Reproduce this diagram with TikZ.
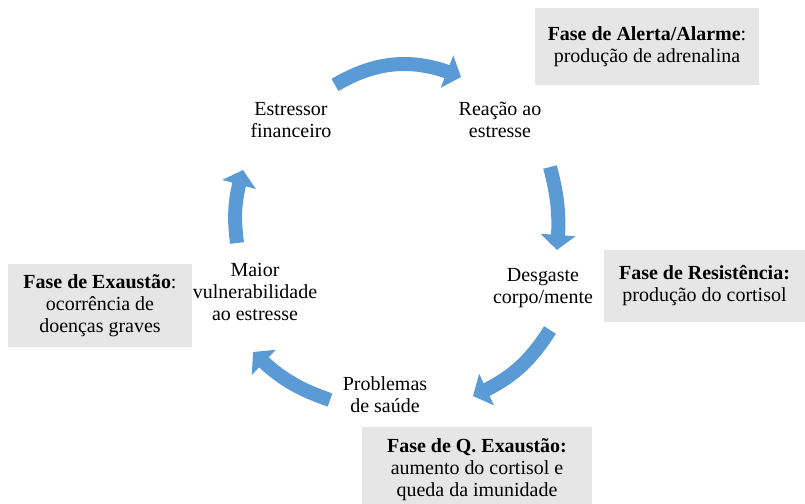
\documentclass[tikz,border=0pt]{standalone}
\usepackage{fontspec}
\setmainfont{Liberation Serif}
\usetikzlibrary{arrows.meta,bending}
\definecolor{cycleblue}{HTML}{5B9BD5}
\definecolor{phasegray}{HTML}{E7E6E6}
\tikzset{
  cyclearrow/.style={draw=cycleblue, line width=0.35cm, -{Triangle[length=0.375cm,width=0.85cm,flex]}},
  steplabel/.style={align=center, font=\fontsize{14.2}{15.6}\selectfont},
  phasebox/.style={fill=phasegray, align=center, inner sep=0pt, font=\fontsize{14.2}{15.6}\selectfont}
}
\begin{document}
\begin{tikzpicture}[x=0.025cm, y=-0.025cm]
\useasboundingbox (0,0) rectangle (805,504);
\node[steplabel] (estressor) at (291,120) {Estressor\\financeiro};
\node[steplabel] (reacao) at (500,120) {Reação ao\\estresse};
\node[steplabel] (desgaste) at (543,288) {Desgaste\\corpo/mente};
\node[steplabel] (problemas) at (385,395) {Problemas\\de saúde};
\node[steplabel] (maior) at (255,292) {Maior\\vulnerabilidade\\ao estresse};
\node[phasebox, minimum width=5.6cm, minimum height=1.925cm] (alerta) at (647,46.5) {\textbf{Fase de Alerta/Alarme}:\\produção de adrenalina};
\node[phasebox, minimum width=5.025cm, minimum height=1.8cm] (resist) at (704.5,286) {\textbf{Fase de Resistência:}\\produção do cortisol};
\node[phasebox, minimum width=4.6cm, minimum height=2.075cm] (exaust) at (100,305.5) {\textbf{Fase de Exaustão}:\\ocorrência de\\doenças graves};
\node[phasebox, minimum width=5.75cm, minimum height=2.125cm] (qexaust) at (477,469.5) {\textbf{Fase de Q. Exaustão:}\\aumento do cortisol e\\queda da imunidade};
\coordinate (t1) at (335,85);
\coordinate (h1) at (461,77);
\coordinate (t2) at (550,167);
\coordinate (h2) at (557,250);
\coordinate (t3) at (550,330);
\coordinate (h3) at (473,396);
\coordinate (t4) at (330,400);
\coordinate (h4) at (253,352);
\coordinate (t5) at (237,243);
\coordinate (h5) at (243,170);
\draw[cyclearrow] (t1) to[bend left=27] (h1);
\draw[cyclearrow] (t2) to[bend left=10] (h2);
\draw[cyclearrow] (t3) to[bend left=17] (h3);
\draw[cyclearrow] (t4) to[bend left=13] (h4);
\draw[cyclearrow] (t5) to[bend left=12] (h5);
\end{tikzpicture}
\end{document}
